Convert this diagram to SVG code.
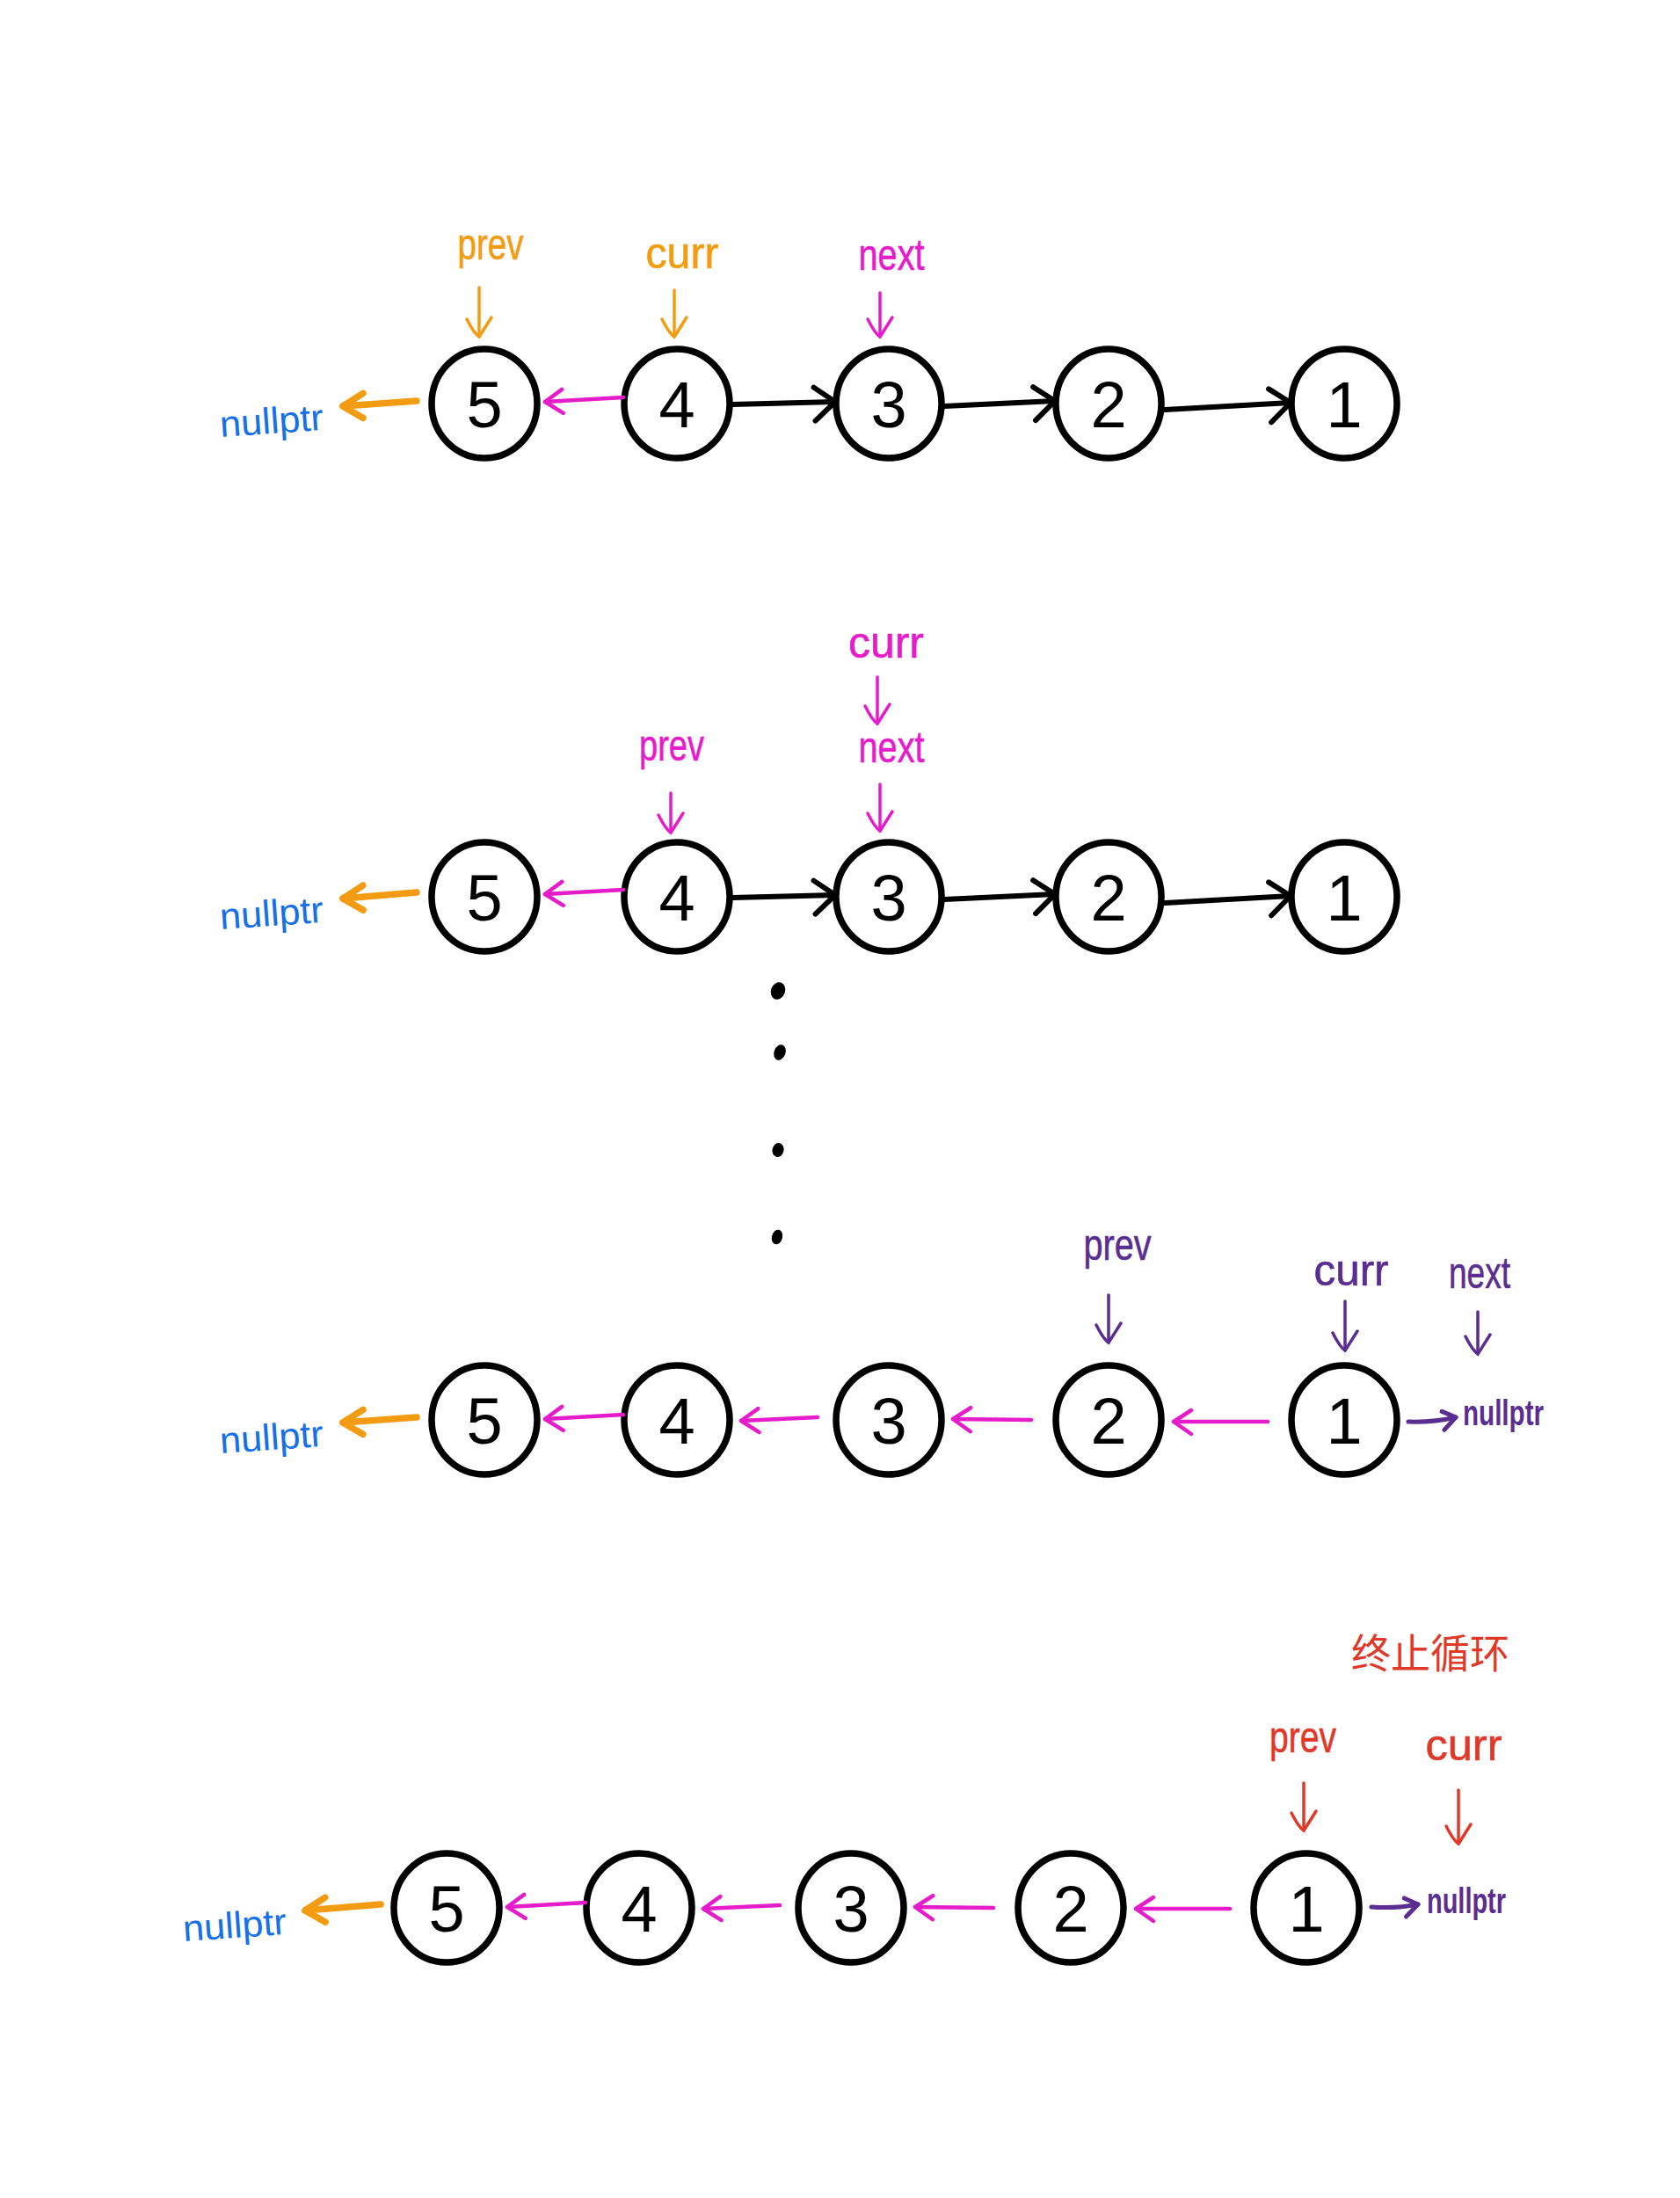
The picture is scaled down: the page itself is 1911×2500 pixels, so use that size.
<svg xmlns="http://www.w3.org/2000/svg" width="1911" height="2500" viewBox="0 0 1911 2500">
  <style>
    .node ellipse { fill: none; stroke: #000; stroke-width: 7.5; }
    .node text { font-family: "Liberation Sans", Arial, sans-serif; font-size: 74px; fill: #000; text-anchor: middle; }
    .lbl { font-family: "Liberation Sans", Arial, sans-serif; font-size: 50px; text-anchor: middle; }
    .null { font-family: "Liberation Sans", Arial, sans-serif; font-size: 42px; fill: #1670E8; }
    .nullp { font-family: "Liberation Sans", Arial, sans-serif; font-size: 40px; font-weight: bold; fill: #5A2D91; }
    .cjk { font-family: "Liberation Sans", "Noto Sans CJK SC", sans-serif; font-size: 46px; fill: #E0392A; text-anchor: middle; }
    .orange { fill: #F39C12; stroke: #F39C12; }
    .magenta { fill: #E61CCB; stroke: #E61CCB; }
    .purple { fill: #5A2D91; stroke: #5A2D91; }
    .red { fill: #E0392A; stroke: #E0392A; }
    .lbl.orange, .lbl.magenta, .lbl.purple, .lbl.red { stroke-width: 0.6; }
    .c-black { fill: none; stroke: #000; stroke-width: 6; stroke-linecap: round; marker-end: url(#h-black); }
    .c-pink { fill: none; stroke: #E61CCB; stroke-width: 4.5; stroke-linecap: round; marker-end: url(#h-pink); }
    .c-orange { fill: none; stroke: #F39C12; stroke-width: 7.5; stroke-linecap: round; marker-end: url(#h-orange); }
    .c-purple { fill: none; stroke: #5A2D91; stroke-width: 5; stroke-linecap: round; marker-end: url(#h-purple); }
    .p-orange { fill: none; stroke: #F39C12; stroke-width: 3.5; stroke-linecap: round; marker-end: url(#h-down-orange); }
    .p-magenta { fill: none; stroke: #E61CCB; stroke-width: 3.5; stroke-linecap: round; marker-end: url(#h-down-magenta); }
    .p-purple { fill: none; stroke: #5A2D91; stroke-width: 3.5; stroke-linecap: round; marker-end: url(#h-down-purple); }
    .p-red { fill: none; stroke: #E0392A; stroke-width: 3.5; stroke-linecap: round; marker-end: url(#h-down-red); }
    .dot { fill: #000; }
  </style>
  <defs>
    <marker id="h-black" markerUnits="userSpaceOnUse" viewBox="-40 -40 60 80" markerWidth="60" markerHeight="80" refX="0" refY="0" orient="auto" overflow="visible">
      <path d="M -24 -17 L 0 0 L -23 21" fill="none" stroke="#000" stroke-width="6" stroke-linecap="round" stroke-linejoin="round"/>
    </marker>
    <marker id="h-pink" markerUnits="userSpaceOnUse" viewBox="-40 -40 60 80" markerWidth="60" markerHeight="80" refX="0" refY="0" orient="auto" overflow="visible">
      <path d="M -20 -14 L 0 0 L -20 13" fill="none" stroke="#E61CCB" stroke-width="4.5" stroke-linecap="round" stroke-linejoin="round"/>
    </marker>
    <marker id="h-orange" markerUnits="userSpaceOnUse" viewBox="-40 -40 60 80" markerWidth="60" markerHeight="80" refX="0" refY="0" orient="auto" overflow="visible">
      <path d="M -22 -15 L 0 0 L -24 13" fill="none" stroke="#F39C12" stroke-width="7.5" stroke-linecap="round" stroke-linejoin="round"/>
    </marker>
    <marker id="h-purple" markerUnits="userSpaceOnUse" viewBox="-40 -40 60 80" markerWidth="60" markerHeight="80" refX="0" refY="0" orient="auto" overflow="visible">
      <path d="M -14 -10 L 0 0 L -16 11" fill="none" stroke="#5A2D91" stroke-width="5" stroke-linecap="round" stroke-linejoin="round"/>
    </marker>
    <marker id="h-down-orange" markerUnits="userSpaceOnUse" viewBox="-40 -40 60 80" markerWidth="60" markerHeight="80" refX="0" refY="0" orient="auto" overflow="visible">
      <path d="M -22 -14 Q -6 -4 0 0 Q -4 6 -20 14" fill="none" stroke="#F39C12" stroke-width="3.5" stroke-linecap="round"/>
    </marker>
    <marker id="h-down-magenta" markerUnits="userSpaceOnUse" viewBox="-40 -40 60 80" markerWidth="60" markerHeight="80" refX="0" refY="0" orient="auto" overflow="visible">
      <path d="M -22 -14 Q -6 -4 0 0 Q -4 6 -20 14" fill="none" stroke="#E61CCB" stroke-width="3.5" stroke-linecap="round"/>
    </marker>
    <marker id="h-down-purple" markerUnits="userSpaceOnUse" viewBox="-40 -40 60 80" markerWidth="60" markerHeight="80" refX="0" refY="0" orient="auto" overflow="visible">
      <path d="M -22 -14 Q -6 -4 0 0 Q -4 6 -20 14" fill="none" stroke="#5A2D91" stroke-width="3.5" stroke-linecap="round"/>
    </marker>
    <marker id="h-down-red" markerUnits="userSpaceOnUse" viewBox="-40 -40 60 80" markerWidth="60" markerHeight="80" refX="0" refY="0" orient="auto" overflow="visible">
      <path d="M -22 -14 Q -6 -4 0 0 Q -4 6 -20 14" fill="none" stroke="#E0392A" stroke-width="3.5" stroke-linecap="round"/>
    </marker>
  </defs>

  <rect x="0" y="0" width="1911" height="2500" fill="#fff"/>

  <!-- ===== Step 1: prev = 5, curr = 4, next = 3 ===== -->
  <g id="s1-n5" class="node"><ellipse cx="551" cy="459" rx="60" ry="62"/><text x="551" y="486">5</text></g>
  <g id="s1-n4" class="node"><ellipse cx="770" cy="459" rx="60" ry="62"/><text x="770" y="486">4</text></g>
  <g id="s1-n3" class="node"><ellipse cx="1011" cy="459" rx="60" ry="62"/><text x="1011" y="486">3</text></g>
  <g id="s1-n2" class="node"><ellipse cx="1261" cy="459" rx="60" ry="62"/><text x="1261" y="486">2</text></g>
  <g id="s1-n1" class="node"><ellipse cx="1529" cy="459" rx="60" ry="62"/><text x="1529" y="486">1</text></g>
  <g id="s1-null"><text class="null" x="250" y="493" textLength="118" lengthAdjust="spacingAndGlyphs" transform="rotate(-4 309 480)">nullptr</text></g>
  <g id="s1-prev"><text class="lbl orange" x="558" y="295" textLength="75" lengthAdjust="spacingAndGlyphs">prev</text><path class="p-orange" d="M 545 327 L 545 383"/></g>
  <g id="s1-curr"><text class="lbl orange" x="776" y="305" textLength="83" lengthAdjust="spacingAndGlyphs">curr</text><path class="p-orange" d="M 767 330 L 767 383"/></g>
  <g id="s1-next"><text class="lbl magenta" x="1014" y="307" textLength="75" lengthAdjust="spacingAndGlyphs">next</text><path class="p-magenta" d="M 1001 333 L 1001 383"/></g>

  <!-- ===== Step 2: prev = 4, curr = next = 3 ===== -->
  <g id="s2-n5" class="node"><ellipse cx="551" cy="1020" rx="60" ry="62"/><text x="551" y="1047">5</text></g>
  <g id="s2-n4" class="node"><ellipse cx="770" cy="1020" rx="60" ry="62"/><text x="770" y="1047">4</text></g>
  <g id="s2-n3" class="node"><ellipse cx="1011" cy="1020" rx="60" ry="62"/><text x="1011" y="1047">3</text></g>
  <g id="s2-n2" class="node"><ellipse cx="1261" cy="1020" rx="60" ry="62"/><text x="1261" y="1047">2</text></g>
  <g id="s2-n1" class="node"><ellipse cx="1529" cy="1020" rx="60" ry="62"/><text x="1529" y="1047">1</text></g>
  <g id="s2-null"><text class="null" x="250" y="1053" textLength="118" lengthAdjust="spacingAndGlyphs" transform="rotate(-4 309 1040)">nullptr</text></g>
  <g id="s2-curr"><text class="lbl magenta" x="1008" y="748" textLength="86" lengthAdjust="spacingAndGlyphs">curr</text><path class="p-magenta" d="M 998 770 L 998 823"/></g>
  <g id="s2-next"><text class="lbl magenta" x="1014" y="867" textLength="75" lengthAdjust="spacingAndGlyphs">next</text><path class="p-magenta" d="M 1001 892 L 1001 945"/></g>
  <g id="s2-prev"><text class="lbl magenta" x="764" y="865" textLength="74" lengthAdjust="spacingAndGlyphs">prev</text><path class="p-magenta" d="M 763 902 L 763 947"/></g>

  <!-- ellipsis between steps -->
  <g id="ellipsis">
    <ellipse class="dot" cx="885" cy="1127" rx="8" ry="10" transform="rotate(20 885 1127)"/>
    <ellipse class="dot" cx="887" cy="1197" rx="6.5" ry="9" transform="rotate(20 887 1197)"/>
    <ellipse class="dot" cx="885" cy="1308" rx="6.5" ry="8" transform="rotate(15 885 1308)"/>
    <ellipse class="dot" cx="884" cy="1407" rx="6" ry="8.5" transform="rotate(15 884 1407)"/>
  </g>

  <!-- ===== Step 3: prev = 2, curr = 1, next = nullptr ===== -->
  <g id="s3-n5" class="node"><ellipse cx="551" cy="1615" rx="60" ry="62"/><text x="551" y="1642">5</text></g>
  <g id="s3-n4" class="node"><ellipse cx="770" cy="1615" rx="60" ry="62"/><text x="770" y="1642">4</text></g>
  <g id="s3-n3" class="node"><ellipse cx="1011" cy="1615" rx="60" ry="62"/><text x="1011" y="1642">3</text></g>
  <g id="s3-n2" class="node"><ellipse cx="1261" cy="1615" rx="60" ry="62"/><text x="1261" y="1642">2</text></g>
  <g id="s3-n1" class="node"><ellipse cx="1529" cy="1615" rx="60" ry="62"/><text x="1529" y="1642">1</text></g>
  <g id="s3-null"><text class="null" x="250" y="1649" textLength="118" lengthAdjust="spacingAndGlyphs" transform="rotate(-4 309 1636)">nullptr</text></g>
  <g id="s3-nullr"><text class="nullp" x="1664" y="1621" textLength="92" lengthAdjust="spacingAndGlyphs">nullptr</text></g>
  <g id="s3-prev"><text class="lbl purple" x="1271" y="1433" textLength="77" lengthAdjust="spacingAndGlyphs">prev</text><path class="p-purple" d="M 1261 1473 L 1261 1527"/></g>
  <g id="s3-curr"><text class="lbl purple" x="1537" y="1462" textLength="85" lengthAdjust="spacingAndGlyphs">curr</text><path class="p-purple" d="M 1530 1480 L 1530 1536"/></g>
  <g id="s3-next"><text class="lbl purple" x="1683" y="1465" textLength="70" lengthAdjust="spacingAndGlyphs">next</text><path class="p-purple" d="M 1681 1492 L 1681 1540"/></g>

  <!-- ===== Step 4: loop ends, prev = 1, curr = nullptr ===== -->
  <g id="s4-n5" class="node"><ellipse cx="508" cy="2170" rx="60" ry="62"/><text x="508" y="2197">5</text></g>
  <g id="s4-n4" class="node"><ellipse cx="727" cy="2170" rx="60" ry="62"/><text x="727" y="2197">4</text></g>
  <g id="s4-n3" class="node"><ellipse cx="968" cy="2170" rx="60" ry="62"/><text x="968" y="2197">3</text></g>
  <g id="s4-n2" class="node"><ellipse cx="1218" cy="2170" rx="60" ry="62"/><text x="1218" y="2197">2</text></g>
  <g id="s4-n1" class="node"><ellipse cx="1486" cy="2170" rx="60" ry="62"/><text x="1486" y="2197">1</text></g>
  <g id="s4-null"><text class="null" x="208" y="2204" textLength="118" lengthAdjust="spacingAndGlyphs" transform="rotate(-4 267 2191)">nullptr</text></g>
  <g id="s4-nullr"><text class="nullp" x="1623" y="2176" textLength="90" lengthAdjust="spacingAndGlyphs">nullptr</text></g>
  <g id="s4-title"><text class="cjk" x="1627" y="1897" textLength="180" lengthAdjust="spacingAndGlyphs">终止循环</text></g>
  <g id="s4-prev"><text class="lbl red" x="1482" y="1993" textLength="76" lengthAdjust="spacingAndGlyphs">prev</text><path class="p-red" d="M 1483 2028 L 1483 2082"/></g>
  <g id="s4-curr"><text class="lbl red" x="1665" y="2002" textLength="87" lengthAdjust="spacingAndGlyphs">curr</text><path class="p-red" d="M 1659 2036 L 1659 2097"/></g>

  <!-- ===== links ===== -->
  <g id="connectors">
    <!-- step 1 -->
    <path class="c-orange" d="M 474 456 L 390 462"/>
    <path class="c-pink" d="M 709 452 L 620 457"/>
    <path class="c-black" d="M 833 460 L 950 457"/>
    <path class="c-black" d="M 1074 462 L 1200 456"/>
    <path class="c-black" d="M 1325 466 L 1468 458"/>
    <!-- step 2 -->
    <path class="c-orange" d="M 474 1015 L 390 1022"/>
    <path class="c-pink" d="M 709 1012 L 620 1017"/>
    <path class="c-black" d="M 833 1021 L 950 1018"/>
    <path class="c-black" d="M 1074 1023 L 1200 1017"/>
    <path class="c-black" d="M 1325 1027 L 1468 1019"/>
    <!-- step 3 -->
    <path class="c-orange" d="M 474 1612 L 390 1618"/>
    <path class="c-pink" d="M 709 1609 L 620 1614"/>
    <path class="c-pink" d="M 930 1612 L 843 1616"/>
    <path class="c-pink" d="M 1173 1615 L 1084 1614"/>
    <path class="c-pink" d="M 1442 1617 L 1335 1617"/>
    <path class="c-purple" d="M 1602 1617 Q 1630 1618 1656 1612"/>
    <!-- step 4 -->
    <path class="c-orange" d="M 433 2166 L 347 2173"/>
    <path class="c-pink" d="M 666 2164 L 577 2169"/>
    <path class="c-pink" d="M 887 2167 L 800 2171"/>
    <path class="c-pink" d="M 1130 2170 L 1041 2169"/>
    <path class="c-pink" d="M 1399 2171 L 1292 2171"/>
    <path class="c-purple" d="M 1560 2169 Q 1588 2171 1613 2166"/>
  </g>
</svg>
